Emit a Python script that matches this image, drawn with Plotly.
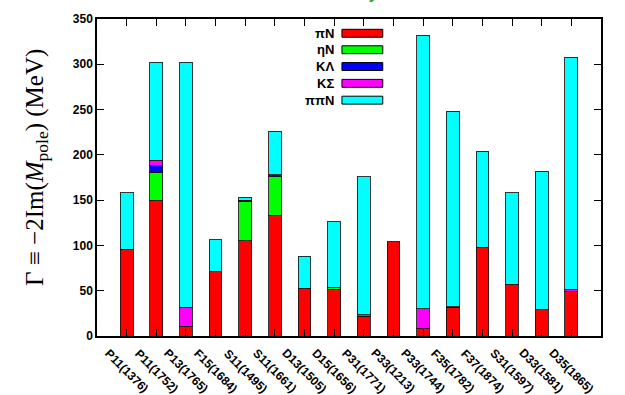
import plotly.graph_objects as go

# Resonance pole widths split by decay channel
categories = ["P11(1376)", "P11(1752)", "P13(1765)", "F15(1684)", "S11(1495)",
              "S11(1661)", "D13(1505)", "D15(1656)", "P31(1771)", "P33(1213)",
              "P33(1744)", "F35(1782)", "F37(1874)", "S31(1597)", "D33(1581)",
              "D35(1865)"]

pi_N = [96, 150, 10, 71, 105, 133, 53, 51, 22, 104, 8, 32, 98, 57, 29, 49]
eta_N = [0, 31, 0, 0, 44, 43, 0, 3, 0, 0, 0, 0, 0, 0, 0, 0]
K_Lambda = [0, 7, 1, 0, 1, 2, 0, 0, 0, 0, 0, 0, 0, 0, 0, 0]
K_Sigma = [0, 6, 21, 0, 0, 0, 0, 0, 1.5, 0, 22, 0.5, 0, 0, 0, 2]
pipi_N = [62, 108, 270, 35, 3, 48, 35, 72, 152.5, 0.5, 302, 215.5, 106, 101, 153, 257]

channel_names = ["πN", "ηN", "KΛ", "KΣ", "ππN"]
channel_values = [pi_N, eta_N, K_Lambda, K_Sigma, pipi_N]
channel_colors = ["#ff0000", "#00ff00", "#0000ff", "#ff00ff", "#00ffff"]

y_ticks = [0, 50, 100, 150, 200, 250, 300, 350]

fig = go.Figure()
for name, vals, col in zip(channel_names, channel_values, channel_colors):
    fig.add_trace(go.Bar(
        x=list(range(len(categories))), y=vals, name=name,
        marker=dict(color=col, line=dict(color="rgba(20,20,20,0.85)", width=1)),
        width=0.43, showlegend=False,
    ))

# Slanted category labels hanging below each bar
for i, cat in enumerate(categories):
    fig.add_annotation(xref="x", yref="y", x=i, y=0, yshift=-35,
                       xanchor="center", yanchor="middle", showarrow=False,
                       textangle=45, text=f"<b>{cat}</b>",
                       font=dict(family="Liberation Sans", size=12, color="black"))

# Vertical axis title, set as a rotated annotation
fig.add_annotation(xref="paper", yref="paper", x=-0.119, y=0.53,
                   xanchor="center", yanchor="middle", showarrow=False,
                   textangle=-90,
                   text="Γ ≡ −2Im(<i>M</i><sub>pole</sub>) (MeV)",
                   font=dict(family="Liberation Serif", size=25, color="black"))

# Key drawn inside the frame: label on the left, colour box on the right
row_y = [0.955, 0.903, 0.850, 0.797, 0.744]
for name, col, yc in zip(channel_names, channel_colors, row_y):
    fig.add_shape(type="rect", xref="paper", yref="paper",
                  x0=0.486, x1=0.567, y0=yc - 0.0125, y1=yc + 0.0125,
                  fillcolor=col, line=dict(color="black", width=1))
    fig.add_annotation(xref="paper", yref="paper", x=0.474, y=yc,
                       xanchor="right", yanchor="middle", showarrow=False,
                       text=f"<b>{name}</b>",
                       font=dict(family="Liberation Sans", size=13, color="black"))

# Green heading above the frame, mostly running off the top of the page
fig.add_annotation(xref="paper", yref="paper", x=0.55, y=1, yshift=15,
                   xanchor="center", yanchor="bottom", showarrow=False,
                   text="<b><i>y</i></b>",
                   font=dict(family="Liberation Sans", size=16, color="#22aa22"))

fig.update_layout(
    barmode="stack",
    width=625, height=395,
    margin=dict(l=97, r=24, t=12, b=59),
    paper_bgcolor="white", plot_bgcolor="white",
    xaxis=dict(
        range=[-1, 16],
        tickmode="array", tickvals=list(range(len(categories))),
        showticklabels=False, ticks="inside", ticklen=7, tickcolor="black",
        showline=True, linecolor="black", linewidth=1.5, mirror="ticks",
        showgrid=False, zeroline=False,
    ),
    yaxis=dict(
        range=[0, 350],
        tickmode="array", tickvals=y_ticks,
        ticks="inside", ticklen=7, tickcolor="black",
        showline=True, linecolor="black", linewidth=1.5, mirror="ticks",
        showgrid=False, zeroline=False,
        tickfont=dict(family="Liberation Sans", size=12, color="black", weight="bold"),
    ),
)

fig.write_html("out.html")
